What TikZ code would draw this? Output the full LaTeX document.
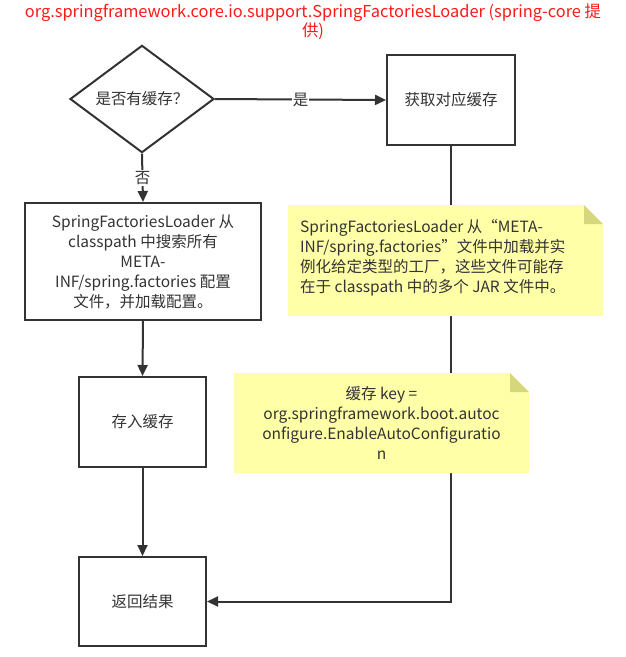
\documentclass[tikz,border=0pt]{standalone}
\usepackage{fontspec}
\setmainfont{Noto Sans CJK SC}
\usetikzlibrary{arrows.meta,shapes.geometric}
\definecolor{ln}{HTML}{333333}
\definecolor{txt}{HTML}{333333}
\definecolor{notefill}{HTML}{FFFFA8}
\definecolor{notefold}{HTML}{D6D67C}
\definecolor{titlered}{HTML}{FF1A1A}
\begin{document}
\begin{tikzpicture}[x=1pt,y=-1pt,
  every node/.style={text=txt,font=\fontsize{15.5}{20}\selectfont},
  flowbox/.style={draw=ln,line width=2pt,fill=white,align=center,inner sep=0pt},
  conn/.style={draw=ln,line width=2pt,-{Triangle[length=11pt,width=10pt]}},
  lbl/.style={fill=white,inner sep=1pt}]
\useasboundingbox (0,0) rectangle (626,657);
% title
\node[text=titlered,font=\fontsize{16.4}{19}\selectfont,align=center] (title) at (313,22)
  {org.springframework.core.io.support.SpringFactoriesLoader (spring-core 提\\供)};
% boxes
\node[flowbox,shape=diamond,minimum width=144pt,minimum height=98pt] (d) at (142,99) {是否有缓存？};
\node[flowbox,minimum width=128pt,minimum height=90pt] (b1) at (451,100) {获取对应缓存};
\node[flowbox,minimum width=236pt,minimum height=117pt] (b2) at (143,261.5)
  {SpringFactoriesLoader 从\\classpath 中搜索所有\\META-\\INF/spring.factories 配置\\文件，并加载配置。};
\node[flowbox,minimum width=127pt,minimum height=90pt] (b3) at (142.5,422) {存入缓存};
\node[flowbox,minimum width=127pt,minimum height=89pt] (b4) at (142.5,601.5) {返回结果};
% connectors
\draw[conn] (d.east) -- node[lbl] {是} (b1.west);
\draw[conn] (d.south) -- node[lbl,pos=0.5] {否} (b2.north);
\draw[conn] (b2.south) -- (b3.north);
\draw[conn] (b3.south) -- (b4.north);
\draw[conn] (b1.south) |- (b4.east);
% note 1
\fill[notefill] (288,205) -- (584,205) -- (603,224) -- (603,316) -- (288,316) -- cycle;
\fill[notefold] (584,205) -- (603,224) -- (584,224) -- cycle;
\node[align=left,anchor=north west,inner sep=0pt] (n1) at (300,219)
  {SpringFactoriesLoader 从“META-\\INF/spring.factories”文件中加载并实\\例化给定类型的工厂，这些文件可能存\\在于 classpath 中的多个 JAR 文件中。};
% note 2
\fill[notefill] (234,373) -- (510,373) -- (529,392) -- (529,473) -- (234,473) -- cycle;
\fill[notefold] (510,373) -- (529,392) -- (510,392) -- cycle;
\node[align=center,inner sep=0pt] (n2) at (381.5,423)
  {缓存 key =\\org.springframework.boot.autoc\\onfigure.EnableAutoConfiguratio\\n};
\end{tikzpicture}
\end{document}
